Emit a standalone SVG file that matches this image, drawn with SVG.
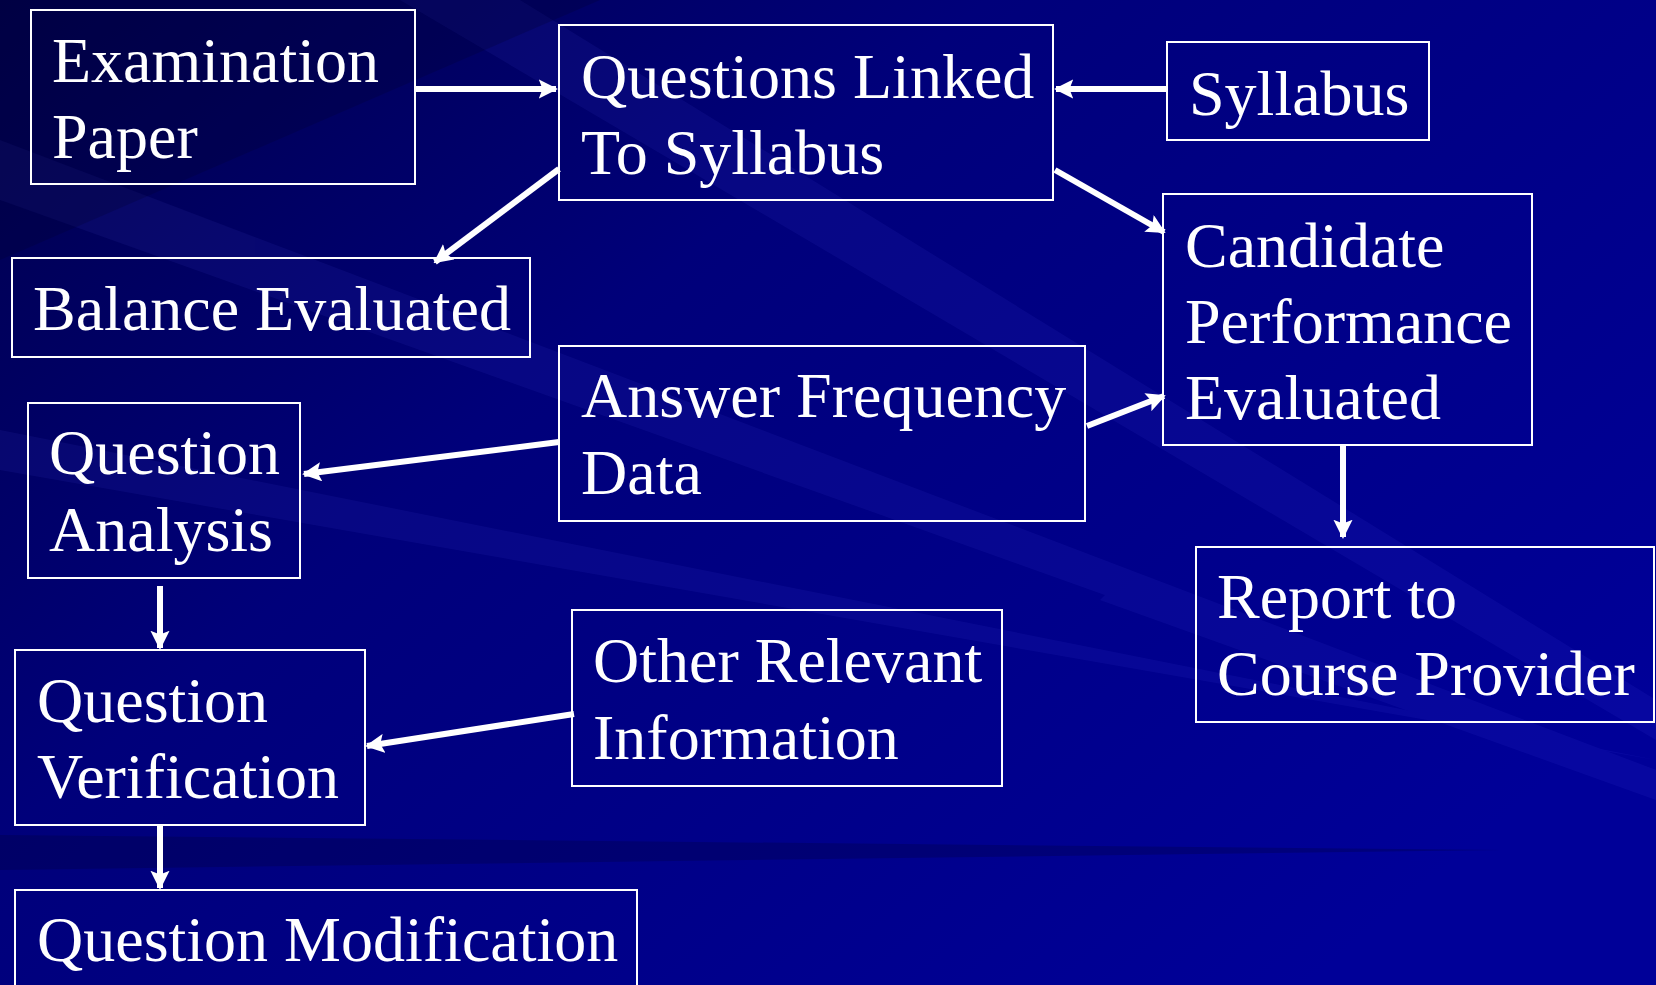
<svg xmlns="http://www.w3.org/2000/svg" width="1656" height="985" viewBox="0 0 1656 985">
<defs>
<linearGradient id="bg" x1="0" y1="0" x2="1" y2="0.7">
<stop offset="0" stop-color="#00004a"/>
<stop offset="0.4" stop-color="#00007a"/>
<stop offset="1" stop-color="#000098"/>
</linearGradient>
<marker id="ah" viewBox="0 0 10 10" refX="9" refY="5" markerWidth="3.2" markerHeight="3.2" orient="auto" markerUnits="strokeWidth">
<path d="M0,0 L10,5 L0,10 L2,5 z" fill="#ffffff"/>
</marker>
<style>
.box{fill:none;stroke:#ffffff;stroke-width:2}
.t{font-family:"Liberation Serif","Times New Roman",serif;font-size:64px;fill:#ffffff}
.c{stroke:#ffffff;stroke-width:6;fill:none;marker-end:url(#ah)}
.lt{fill:#6060ff}
.dk{fill:#000030}
</style>
</defs>
<rect width="1656" height="985" fill="url(#bg)"/>
<g opacity="0.08">
<polygon class="lt" points="1656,770 1656,792 0,200 0,140"/>
<polygon class="lt" points="1656,760 0,430 0,470"/>
<polygon class="lt" points="1656,770 1656,800 1100,600 1110,590"/>
<polygon class="lt" points="1656,700 1656,740 400,0 520,0"/>
</g>
<g opacity="0.25">
<polygon class="dk" points="0,835 1500,850 0,870"/>
<polygon class="dk" points="0,0 600,0 0,260"/>
</g>
<g id="connectors">
<line class="c" x1="415" y1="89" x2="556" y2="89"/>
<line class="c" x1="1167" y1="89" x2="1056" y2="89"/>
<line class="c" x1="559" y1="169" x2="435" y2="262"/>
<line class="c" x1="1055" y1="170" x2="1164" y2="232"/>
<line class="c" x1="1087" y1="426" x2="1164" y2="396"/>
<line class="c" x1="1343" y1="444" x2="1343" y2="537"/>
<line class="c" x1="559" y1="442" x2="304" y2="474"/>
<line class="c" x1="160" y1="586" x2="160" y2="648"/>
<line class="c" x1="574" y1="714" x2="367" y2="746"/>
<line class="c" x1="160" y1="826" x2="160" y2="888"/>
</g>
<g id="exam-paper"><rect class="box" x="31" y="10" width="384" height="174"/><text class="t" x="52" y="82">Examination</text><text class="t" x="52" y="158">Paper</text></g>
<g id="questions-linked"><rect class="box" x="559" y="25" width="494" height="175"/><text class="t" x="581" y="98">Questions Linked</text><text class="t" x="581" y="174">To Syllabus</text></g>
<g id="syllabus"><rect class="box" x="1167" y="42" width="262" height="98"/><text class="t" x="1189" y="115">Syllabus</text></g>
<g id="balance-evaluated"><rect class="box" x="12" y="258" width="518" height="99"/><text class="t" x="33" y="330">Balance Evaluated</text></g>
<g id="candidate-performance"><rect class="box" x="1163" y="194" width="369" height="251"/><text class="t" x="1185" y="267">Candidate</text><text class="t" x="1185" y="343">Performance</text><text class="t" x="1185" y="419">Evaluated</text></g>
<g id="answer-frequency"><rect class="box" x="559" y="346" width="526" height="175"/><text class="t" x="581" y="417">Answer Frequency</text><text class="t" x="581" y="494">Data</text></g>
<g id="question-analysis"><rect class="box" x="28" y="403" width="272" height="175"/><text class="t" x="49" y="474">Question</text><text class="t" x="49" y="551">Analysis</text></g>
<g id="report"><rect class="box" x="1196" y="547" width="458" height="175"/><text class="t" x="1217" y="618">Report to</text><text class="t" x="1217" y="695">Course Provider</text></g>
<g id="other-info"><rect class="box" x="572" y="610" width="430" height="176"/><text class="t" x="593" y="682">Other Relevant</text><text class="t" x="593" y="759">Information</text></g>
<g id="question-verification"><rect class="box" x="15" y="650" width="350" height="175"/><text class="t" x="37" y="722">Question</text><text class="t" x="37" y="798">Verification</text></g>
<g id="question-modification"><rect class="box" x="15" y="890" width="622" height="110"/><text class="t" x="37" y="961">Question Modification</text></g>
</svg>
